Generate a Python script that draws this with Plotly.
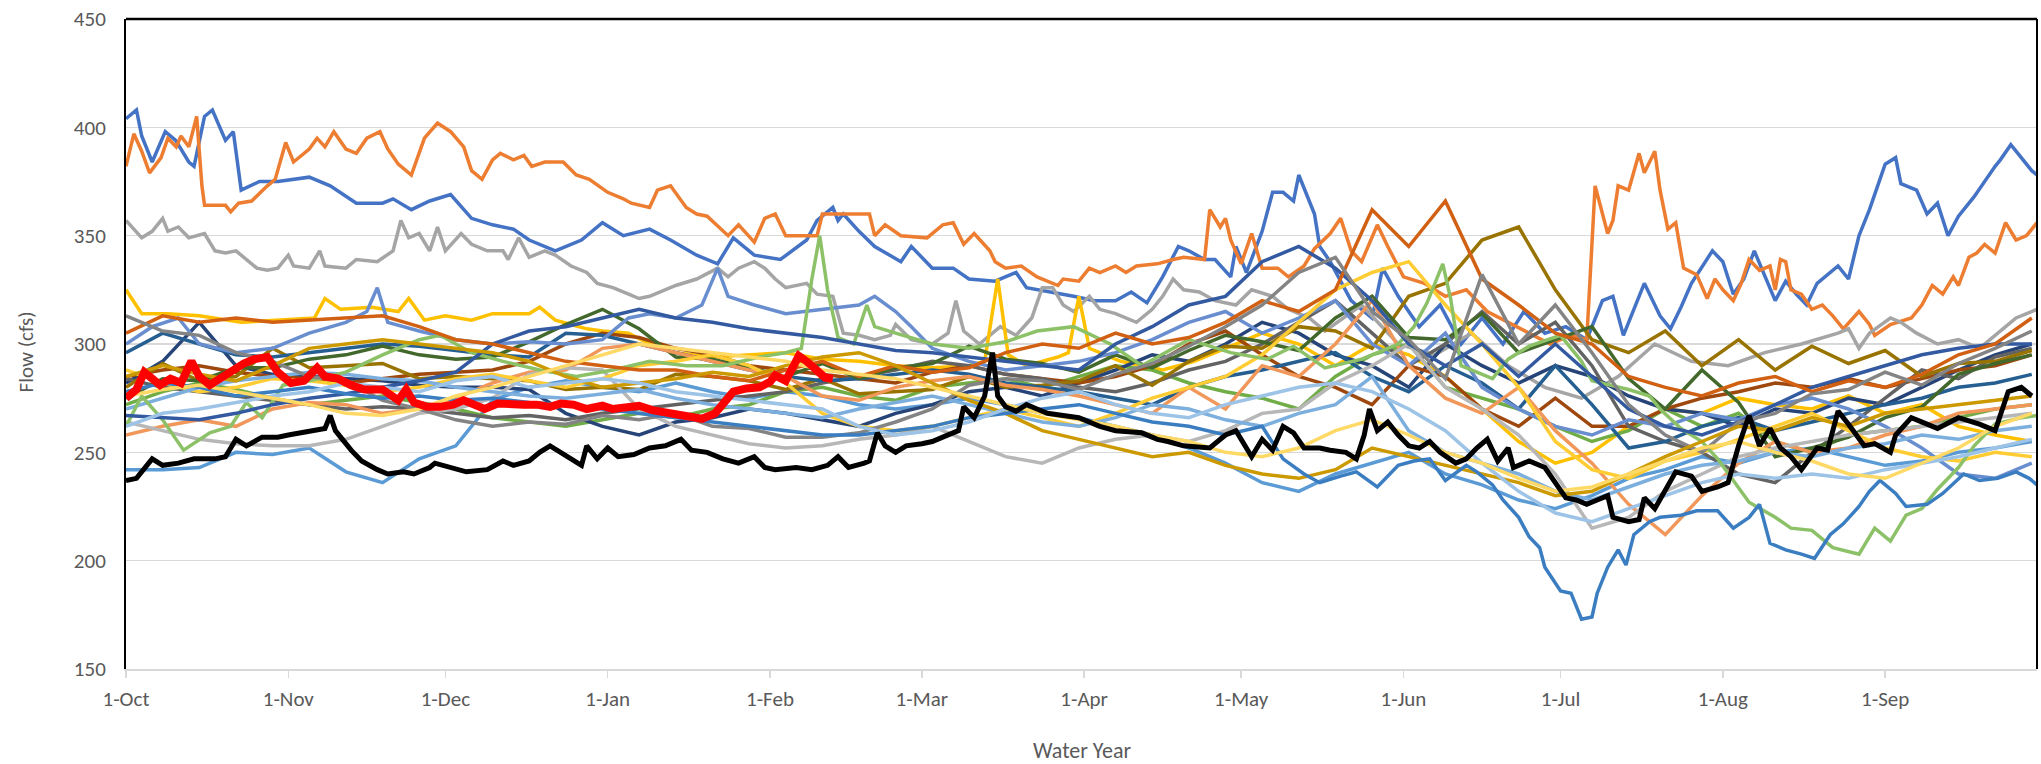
import plotly.graph_objects as go
import pandas as pd

# ---------------- data ----------------
BASE = "2019-10-01"          # water year start (leap year WY2020)
AXIS_END_DAY = 365
WEEK_DAYS = list(range(0, 365, 7))   # 53 weekly sample days

Y_TICKS = [150, 200, 250, 300, 350, 400, 450]

# own-sampled series: (day offset from 1-Oct, flow cfs)
A_PTS = [(0,404),(2,408),(3,396),(5,384),(7.5,398),(9.5,394),(12,384),(13,382),(15,405),(16.5,408),(19,394),(20.5,398),
         (22,371),(25.5,375),(29,375),(35,377),(39,373),(44,365),(49,365),(51,367),(54.5,362),(58,366),(62,369),(66,358),
         (70,355),(74,353),(77,348),(82,343),(87,348),(91,356),(95,350),(100,353),(104,348),(109,341),(113,337),(116,349),
         (120,341),(125,339),(130,348),(132,357),(135,363),(136,357),(137,360),(140,352),(143,345),(148,338),(150,345),
         (154,335),(158,335),(161,330),(166,329),(170,333),(172,326),(177,324),(181,322),(185,320),(189,320),(192,324),
         (195,319),(198,331),(201,345),(203,343),(206,339),(208,339),(211,331),(212,345),(214,333),(217,352),(219,370),
         (221,370),(223,366),(224,378),(227,360),(228,345),(230,338),(234,320),(238,312),(240,335),(243,322),(247,308),
         (251,318),(255,300),(259,312),(263,300),(267,315),(271,305),(275,308),(279,302),(282,320),(284,322),(286,304),
         (290,328),(293,313),(295,307),(297,317),(299,328),(303,343),(305,338),(307,323),(309,330),(311,343),(315,320),
         (317,329),(319,323),(321,318),(323,328),(327,336),(329,330),(331,350),(333,362),(336,383),(338,386),(339,374),
         (342,371),(344,360),(346,365),(348,350),(350,359),(353,368),(357,382),(358,385),(360,392),(362,386),(364,380),(365,378)]

B_PTS = [(0,382),(1.5,397),(3,389),(4.5,379),(6.7,386),(8,395),(9.6,391),(10.5,396),(12,391),(13.5,405),(14.5,373),
         (15,364),(19,364),(20,361),(21.5,365),(24,366),(27,373),(28.5,376),(30.5,393),(32,384),(35,390),(36.5,395),
         (38,391),(39.7,398),(42,390),(44,388),(46,395),(48.5,398),(50,390),(52,383),(54.5,378),(57,395),(59.5,402),
         (62,398),(64.5,391),(66,380),(68,376),(70,385),(71.5,388),(74,385),(76,387),(77.5,382),(80,384),(83.5,384),
         (86,378),(88.5,376),(92,370),(95,367),(96.5,365),(100,363),(101.5,371),(104,373),(107,363),(109,360),(111,359),
         (115,350),(117,355),(120,347),(122,358),(124,360),(126,350),(132,350),(133,360),(142,360),(143,350),(145,355),
         (148,350),(153,349),(156,355),(158,356),(160,346),(162,351),(165,343),(166,338),(168,335),(171,336),(174,331),
         (178,327),(179,330),(182,329),(184,335),(186,333),(189,336),(191,333),(193,336),(197,337),(200,339),(202,340),
         (206,339),(207,362),(209,354),(210,358),(211,348),(213,337),(215,351),(217,335),(220,335),(222,331),(225,336),
         (227,344),(230,351),(232,358),(234,343),(236,338),(239,355),(241,345),(244,331),(248,328),(252,322),(256,325),
         (260,315),(264,310),(268,305),(272,300),(276,304),(279,302),(280.6,373),(283,351),(284,357),(285,373),(287,371),
         (289,388),(290,379),(292,389),(293,371),(294.5,353),(296,356),(297.5,335),(300,332),(302,321),(303.5,330),
         (305,325),(307,320),(308.5,328),(310,339),(312,334),(314,336),(315,325),(316,339),(317,338),(318,325),(320,323),
         (322,316),(324,318),(326,313),(328,307),(331,315),(333,309),(334,304),(337,309),(341,312),(343,318),(345,327),
         (347,323),(349,331),(350,327),(352,340),(353.5,342),(355,346),(357,342),(359,356),(361,348),(363,350),(365,356)]

C_PTS = [(0,357),(3,349),(5,352),(7,358),(8,352),(10,354),(12,349),(15,351),(17,343),(19,342),(21,343),(23,339),
         (25,335),(27,334),(29,335),(31,341),(32,336),(35,335),(37,343),(38,336),(42,335),(44,339),(48,338),(51,343),
         (52.5,357),(54,349),(56,351),(58,343),(59.5,354),(61,343),(64,351),(66,346),(69,343),(72,343),(73,339),(75,349),
         (77,340),(80,343),(82,341),(85,336),(88,333),(90,328),(93,326),(96,323),(98,321),(100,322),(105,327),(109,330),
         (113,335),(115,331),(117,335),(120,338),(122,335),(124,330),(126,326),(130,328),(132,323),(135,322),(137,305),
         (140,304),(143,302),(146,304),(147,309),(150,302),(154,300),(157,305),(158.5,320),(160,306),(163,300),(167,308),
         (170,304),(173,312),(175,326),(177,326),(179,318),(181,315),(184,322),(186,316),(189,314),(193,310),(196,316),
         (198,322),(200,330),(202,325),(205,324),(208,320),(212,318),(215,325),(219,322),(222,316),(226,312),(229,306),
         (236,318),(243,300),(250,295),(257,305),(264,290),(271,280),(278,275),(285,285),(292,300),(299,292),(306,290),
         (313,296),(320,300),(327,305),(329,307),(331,298),(333,305),(337,312),(339,310),(342,305),(346,300),(350,302),
         (354,298),(357,304),(361,312),(365,316)]

Y1_PTS = [(0,325),(3,314),(8,314),(14,313),(22,310),(29,311),(36,312),(38,321),(41,316),(47,317),(52,315),(54,321),
          (57,311),(61,313),(66,311),(70,314),(77,314),(79,317),(82,311),(85,309),(88,307),(91,306),(96,305),(100,300),
          (105,296),(112,294),(119,295),(126,296),(133,293),(140,292),(147,290),(154,289),(161,290),(164,292),(166.5,330),
          (168.5,295),(172,290),(178,294),(180,296),(182,322),(184,298),(190,292),(198,288),(204,292),(210,298),(217,305),
          (224,300),(231,290),(238,300),(245,295),(252,285),(259,270),(266,255),(273,245),(280,250),(287,262),(294,270),
          (301,268),(308,275),(315,272),(322,270),(329,276),(336,268),(343,272),(350,262),(357,258),(364,255)]

G1_PTS = [(0,262),(3,276),(7,265),(11,251),(16,259),(20,262),(23,273),(26,266),(30,281),(35,283),(42,287),(49,295),
          (56,302),(60,304),(66,296),(72,292),(79,288),(86,285),(93,288),(100,292),(107,290),(114,290),(121,294),(126,296),
          (129,298),(131,330),(132.5,350),(134,325),(136,303),(139,300),(141.5,318),(143,308),(147,305),(154,300),(161,298),
          (168,301),(174,306),(181,308),(188,300),(194,290),(203,302),(211,296),(218,293),(223,299),(229,289),(236,293),
          (243,300),(246,308),(248.5,319),(251.5,337),(253,321),(255,290),(258,287),(261,284),(264,293),(268,299),(274,304),
          (278,292),(280,283),(287,279),(291,276),(293,270),(297,261),(301,255),(304,247),(307,237),(310,227),(315,220),
          (318,215),(322,214),(326,206),(331,203),(334,215),(337,209),(340,221),(343,224),(346,233),(350,243),(353,253),
          (357,263),(362,266),(365,267)]

B13_PTS = [(0,300),(5,308),(10,312),(14,300),(21,296),(28,298),(35,305),(42,310),(46,315),(48,326),(50,310),(56,306),
           (63,302),(70,300),(77,301),(84,300),(91,302),(96,312),(100,314),(105,312),(110,318),(113,335),(115,322),(120,318),
           (126,314),(133,316),(140,318),(143,322),(147,315),(150,308),(154,298),(161,292),(168,288),(175,290),(182,292),
           (189,296),(196,302),(203,310),(210,315),(217,305),(224,312),(231,320),(238,300),(245,290),(252,305),(259,280),
           (266,270),(273,262),(280,258),(287,265),(294,262),(301,268),(308,265),(315,272),(322,275),(329,270),(336,262),
           (343,252),(350,240),(357,238),(364,245)]

L_PTS = [(0,278),(7,282),(14,280),(21,276),(28,278),(35,280),(42,277),(49,275),(56,276),(63,274),(70,275),(77,273),
         (84,272),(91,270),(98,268),(105,266),(112,264),(119,262),(126,260),(133,258),(140,258),(147,260),(154,262),
         (161,266),(168,268),(175,270),(182,272),(189,268),(196,264),(203,262),(210,258),(217,262),(221,247),(225,240),
         (228,236),(232,239),(235,241),(239,234),(243,244),(246,246),(249,247),(252,237),(256,244),(258,241),(261,235),
         (263,228),(266,220),(268,211),(270,206),(271,197),(274,186),(276,185),(278,173),(280,174),(281,185),(283,197),
         (285,205),(286.5,198),(288,212),(291,218),(293,220),(297,221),(300,223),(304,223),(307,215),(310,220),(312,226),
         (314,208),(317,205),(320,203),(322.5,201),(325.5,212),(328,217),(331,225),(333,232),(335,237),(338,231),(340,225),
         (344,226),(347,231),(351,240),(354,237),(357.5,238),(361,241),(363.5,238),(365,235)]

BLACK_PTS = [(0,237),(2,238),(5,247),(7,244),(10,245),(13,247),(17,247),(19,248),(21,256),(23,253),(26,257),(29,257),
             (31,258),(35,260),(38,261),(39,267),(40,260),(42,254),(43,251),(45,246),(48,242),(50,240),(53,241),(55,240),
             (58,243),(59,245),(62,243),(65,241),(69,242),(72,246),(74,244),(77,246),(79,250),(81,253),(83,250),(86,245),
             (87,244),(88,253),(90,247),(92,252),(94,248),(97,249),(100,252),(103,253),(106,256),(108,251),(111,250),
             (114,247),(117,245),(120,248),(122,243),(124,242),(128,243),(131,242),(134,244),(136,248),(138,243),(141,245),
             (142,246),(143.5,259),(145,253),(147,250),(149,253),(152,254),(154,255),(156,257),(159,260),(160,271),(162,266),
             (164,276),(165.5,296),(166.5,276),(168,271),(170,269),(172,272),(174,270),(176,268),(179,267),(182,266),
             (186,262),(189,260),(194,259),(197,256),(199,255),(202,253),(207,252),(210,258),(212,260),(214,252),(215,248),
             (217,256),(219,251),(221,262),(223,259),(225,252),(228,252),(230,251),(233,250),(235,247),(236.5,258),
             (237.5,270),(239,260),(241,264),(243,258),(245,253),(247,252),(249,255),(251,250),(254,245),(256,247),(258,252),
             (260,256),(262,246),(264,252),(265,243),(268,246),(271,243),(273,236),(275,229),(277,228),(279,226),(281,228),
             (283,230),(284,220),(287,218),(289,219),(290,229),(292,224),(294,232),(296,241),(299,239),(301,232),(304,234),
             (306,236),(308,253),(310,267),(312,253),(314,261),(316,252),(318,248),(320,242),(323,252),(325,251),(327,269),
             (329,263),(332,253),(334,254),(337,250),(338,258),(341,266),(344,263),(346,261),(350,266),(354,263),(357,260),
             (359.5,278),(362,280),(364,276)]

RED_PTS = [(0,275),(2,279),(3.5,287),(5,284),(6.5,281),(8.5,284),(10.5,282),(12.5,292),(14,285),(16,281),(18,284),
           (20,288),(22.5,291),(24.5,293),(27,294),(29,287),(31.5,282),(34,283),(36.5,289),(38,285),(40.5,284),(43,281),
           (45.5,279),(49,279),(50.5,276),(52,274),(53.5,279),(55,273),(57.5,271),(60,271),(62.5,272),(64.5,274),
           (66.5,272),(68.5,270),(71,272.5),(73.5,272),(76,272),(78.5,272),(81,271),(83,272.5),(85.5,272),(88,270),
           (91,271.5),(93,270),(96,271),(98,271.5),(100.5,269.5),(103,268.5),(105.5,268),(108,266.5),(110,265.5),
           (112.5,268),(114.5,273),(116,278),(118.5,279.5),(121,280),(123,282.5),(124,285.5),(126,283),(127.5,291),
           (128.5,294.5),(130,292),(132,287),(133.5,284.5),(135,284)]

# weekly-sampled series (53 values each, one per week from 1-Oct)
MG1 = [313,306,304,296,292,285,283,274,270,265,262,264,263,
       267,265,268,262,261,257,257,259,264,270,281,284,283,
       279,286,291,299,308,318,333,340,315,302,284,332,300,
       318,296,272,258,250,264,268,277,279,287,281,291,298,306]
OL = [280,291,283,285,298,289,290,291,284,285,284,283,279,
      280,279,286,285,283,279,284,277,278,279,285,280,281,
      283,290,281,292,299,298,308,306,298,322,328,348,354,
      325,302,296,306,290,302,288,299,291,297,285,291,292,297]
DG = [275,284,283,289,289,293,295,299,295,293,294,301,309,
      316,307,294,293,289,285,291,284,289,291,299,293,291,
      287,295,289,297,304,301,297,312,322,303,302,314,296,
      302,308,284,270,288,273,248,252,257,266,271,286,291,295]
N2 = [282,292,310,290,286,285,284,283,281,280,280,279,268,
      262,258,264,266,270,268,265,262,268,272,278,280,276,
      282,288,295,292,300,310,305,295,290,280,300,290,282,
      290,285,276,270,268,262,270,268,275,272,280,288,295,300]
LO1 = [258,262,265,262,270,273,272,268,270,275,282,287,288,
       298,300,296,292,288,285,276,274,280,283,285,281,279,
       276,272,268,280,270,290,285,300,320,290,275,268,280,
       260,245,226,212,230,245,255,250,252,258,262,268,270,272]
GD1 = [285,290,286,283,290,298,300,302,300,298,296,292,285,
       280,282,284,287,285,290,294,296,290,282,274,268,260,
       256,252,248,250,244,240,238,242,252,248,244,240,236,
       230,232,240,248,255,262,260,266,262,268,270,272,274,276]
G3 = [272,278,282,279,275,272,274,276,273,270,266,264,262,
      265,268,266,270,272,278,280,276,274,280,282,284,280,
      285,290,288,282,278,275,270,285,295,300,280,275,270,
      262,255,260,270,262,268,255,250,258,260,262,266,270,272]
LB2 = [262,268,270,273,276,278,282,280,278,283,285,280,282,
       284,282,278,276,274,272,270,262,258,260,264,270,275,
       278,272,268,266,272,276,280,282,278,270,260,245,232,
       222,218,224,230,236,240,238,240,238,242,245,248,252,256]
Y2 = [288,282,278,280,284,283,281,278,280,284,286,283,280,
      284,290,292,295,290,282,268,262,260,262,266,270,266,
      262,268,275,280,285,295,310,325,333,338,318,300,280,
      255,242,238,246,250,256,262,268,260,252,248,246,250,248]
LG = [264,260,256,254,253,253,256,262,268,270,275,286,289,
      288,270,262,258,254,252,253,256,258,262,255,248,245,
      252,256,258,255,260,268,270,282,290,300,280,270,258,
      240,215,220,232,240,248,252,255,258,260,262,264,266,268]
DO1 = [305,313,310,312,310,311,312,313,308,302,300,296,292,
       290,288,288,285,283,288,292,285,290,287,289,296,300,
       298,305,300,303,310,320,315,325,362,345,366,330,318,
       305,300,285,280,276,282,285,278,283,280,286,295,300,312]
BR = [285,288,290,287,285,284,282,284,286,287,288,292,300,
      305,303,298,295,290,288,286,284,282,287,290,286,284,
      282,285,290,300,306,295,285,280,272,290,285,270,262,
      275,262,262,270,275,278,282,280,284,280,284,288,290,295]
SB = [296,305,300,295,294,296,298,300,299,297,295,294,305,
      304,300,296,292,288,285,283,284,286,288,286,282,280,
      278,275,272,280,285,288,292,296,285,278,290,282,270,
      290,272,252,255,262,266,260,264,268,272,275,280,282,286]
N1 = [267,266,265,268,272,275,277,280,283,287,300,306,308,
      312,316,312,310,307,305,303,300,297,296,294,292,290,
      288,300,308,318,322,338,345,335,320,300,290,300,285,
      300,285,270,262,258,264,272,280,285,290,295,298,300,300]
DGY = [284,280,278,276,274,272,270,271,270,268,266,267,265,
       268,270,272,274,276,278,282,285,288,292,290,286,284,
       280,278,282,288,292,300,310,320,305,290,300,315,300,
       310,290,262,255,250,240,236,250,262,275,288,284,294,298]
Y3 = [276,279,281,278,275,272,268,267,270,276,280,285,290,
      295,300,298,296,294,292,288,286,284,280,276,272,268,
      265,262,258,255,250,248,252,260,265,258,250,245,238,
      232,234,240,246,252,255,250,246,240,238,245,252,262,268]
LB3 = [270,275,280,283,285,287,286,284,283,280,278,276,275,
       277,279,275,272,270,268,266,270,273,276,272,268,264,
       262,266,272,270,265,262,268,272,285,260,250,245,240,
       232,228,234,240,244,246,250,248,252,254,258,256,260,262]
LB1 = [242,242,243,250,249,252,241,236,247,253,274,280,283,
       280,278,282,278,275,278,276,272,270,272,275,272,268,
       266,262,258,252,245,236,232,240,245,250,240,235,228,
       224,230,238,242,248,245,250,252,248,244,246,250,252,255]

# (name, colour, width, data, kind) in Excel drawing order
SERIES = [
    ("A", "#4472C4", 3.5, A_PTS, "pts"),
    ("B", "#ED7D31", 3.5, B_PTS, "pts"),
    ("C", "#A5A5A5", 3.5, C_PTS, "pts"),
    ("Y1", "#FFC000", 3.5, Y1_PTS, "pts"),
    ("LB1", "#5B9BD5", 3.5, LB1, "wk"),
    ("G3", "#70AD47", 3.5, G3, "wk"),
    ("N2", "#264478", 3.5, N2, "wk"),
    ("BR", "#9E480E", 3.5, BR, "wk"),
    ("DGY", "#636363", 3.5, DGY, "wk"),
    ("OL", "#997300", 3.5, OL, "wk"),
    ("SB", "#255E91", 3.5, SB, "wk"),
    ("DG", "#43682B", 3.5, DG, "wk"),
    ("B13", "#698ED0", 3.5, B13_PTS, "pts"),
    ("LO1", "#F1975A", 3.5, LO1, "wk"),
    ("LG", "#B7B7B7", 3.5, LG, "wk"),
    ("Y2", "#FFCD33", 3.5, Y2, "wk"),
    ("LB3", "#7CAFDD", 3.5, LB3, "wk"),
    ("G1", "#8CC168", 3.5, G1_PTS, "pts"),
    ("N1", "#335AA1", 3.5, N1, "wk"),
    ("DO1", "#D26012", 3.5, DO1, "wk"),
    ("MG1", "#848484", 3.5, MG1, "wk"),
    ("GD1", "#CC9A00", 3.5, GD1, "wk"),
    ("L", "#3A7DC1", 3.5, L_PTS, "pts"),
    ("LB2", "#9DC3E6", 3.5, LB2, "wk"),
    ("Y3", "#FFD966", 3.5, Y3, "wk"),
    ("Black", "#000000", 5, BLACK_PTS, "pts"),
    ("Current", "#FF0000", 8, RED_PTS, "pts"),
]

# ---------------- figure ----------------
base = pd.Timestamp(BASE)


def to_dates(days):
    return [base + pd.Timedelta(days=d) for d in days]


fig = go.Figure()
for name, color, width, data, kind in SERIES:
    if kind == "wk":
        assert len(data) == len(WEEK_DAYS), name
        days, vals = WEEK_DAYS, data
    else:
        days = [p[0] for p in data]
        vals = [p[1] for p in data]
    fig.add_trace(go.Scatter(x=to_dates(days), y=vals, mode="lines", name=name,
                             line=dict(color=color, width=width), hoverinfo="skip"))

FONT = "Carlito, Lato, Calibri, sans-serif"
TXT = "#595959"
fig.update_layout(
    width=2041, height=764,
    margin=dict(l=126, r=4, t=19, b=95),
    paper_bgcolor="white", plot_bgcolor="white",
    showlegend=False,
    font=dict(family=FONT, size=21, color=TXT),
)
fig.update_xaxes(
    type="date",
    range=[base, base + pd.Timedelta(days=AXIS_END_DAY)],
    tick0=BASE, dtick="M1", tickformat="%-d-%b",
    ticks="outside", ticklen=7, tickwidth=1.5, tickcolor="#D9D9D9",
    ticklabelstandoff=3,
    showgrid=False, showline=True, linecolor="#D9D9D9", linewidth=1.5,
    tickfont=dict(family=FONT, size=21, color=TXT),
    zeroline=False,
)
fig.update_yaxes(
    range=[Y_TICKS[0], Y_TICKS[-1]], tickvals=Y_TICKS,
    showgrid=True, gridcolor="#D9D9D9", gridwidth=1.5,
    showline=True, linecolor="black", linewidth=2,
    ticks="", ticklabelstandoff=14, zeroline=False,
    tickfont=dict(family=FONT, size=21, color=TXT),
)
fig.add_shape(type="line", xref="paper", yref="paper", x0=0, x1=1, y0=1, y1=1,
              line=dict(color="black", width=2.5))
fig.add_shape(type="line", xref="paper", yref="paper", x0=1, x1=1, y0=0, y1=1,
              line=dict(color="black", width=2))
fig.add_annotation(text="Water Year", xref="paper", yref="paper", x=0.5, y=-0.125,
                   showarrow=False, yanchor="middle", font=dict(family=FONT, size=22, color=TXT))
fig.add_annotation(text="Flow (cfs)", xref="paper", yref="paper", x=-0.0523, y=0.487,
                   showarrow=False, textangle=-90, xanchor="center", yanchor="middle",
                   font=dict(family=FONT, size=21, color=TXT))

fig.write_html("out.html",
               config={"displayModeBar": False, "staticPlot": True},
               post_script="document.body.style.margin='0px';document.body.style.overflow='hidden';")
